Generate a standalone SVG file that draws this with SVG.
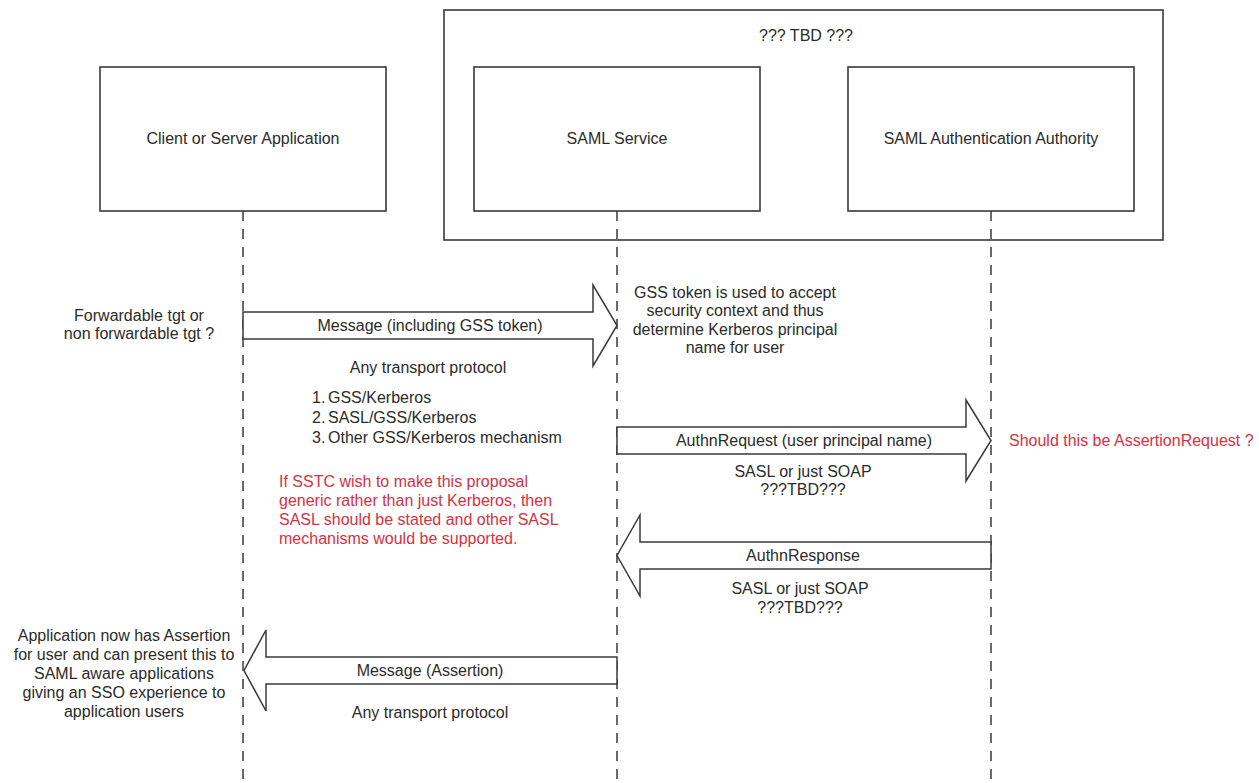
<svg xmlns="http://www.w3.org/2000/svg" width="1259" height="783" viewBox="0 0 1259 783">
<style>
text{font-family:"Liberation Sans",Arial,sans-serif;font-size:16px;fill:#2b2b2b}
.c{text-anchor:middle}
.r{fill:#d8303f}
.box{fill:#fff;stroke:#3a3a3a;stroke-width:1.6}
.life{fill:none;stroke:#3a3a3a;stroke-width:1.5;stroke-dasharray:10 8}
.arr{fill:#fff;stroke:#3a3a3a;stroke-width:1.5;stroke-linejoin:miter}
</style>
<rect width="1259" height="783" fill="#fff"/>
<g id="group-tbd">
<rect class="box" x="444" y="10" width="719" height="230"/>
<text class="c" x="806" y="40.5">??? TBD ???</text>
</g>
<g id="lifelines">
<line class="life" x1="243" y1="211" x2="243" y2="783"/>
<line class="life" x1="617" y1="211" x2="617" y2="783"/>
<line class="life" x1="991" y1="211" x2="991" y2="783"/>
</g>
<g id="client">
<rect class="box" x="100" y="67" width="286" height="144"/>
<text class="c" x="243" y="143.5">Client or Server Application</text>
</g>
<g id="saml-service">
<rect class="box" x="474" y="67" width="286" height="144"/>
<text class="c" x="617" y="143.5">SAML Service</text>
</g>
<g id="saml-aa">
<rect class="box" x="848" y="67" width="286" height="144"/>
<text class="c" x="991" y="143.5">SAML Authentication Authority</text>
</g>
<g id="connectors">
<polygon class="arr" points="243,312 593,312 593,285 617,325.5 593,366 593,339 243,339"/>
<polygon class="arr" points="617,427 966,427 966,400 991,440.5 966,481 966,454 617,454"/>
<polygon class="arr" points="991,542 640,542 640,515 617,555.5 640,596 640,569 991,569"/>
<polygon class="arr" points="617,657 266,657 266,630 244,670.5 266,711 266,684 617,684"/>
<text class="c" x="430" y="331">Message (including GSS token)</text>
<text class="c" x="428" y="372.5">Any transport protocol</text>
<text class="c" x="804" y="446">AuthnRequest (user principal name)</text>
<text class="c" x="803" y="476.5">SASL or just SOAP</text>
<text class="c" x="803" y="494.5">???TBD???</text>
<text class="c" x="803" y="561">AuthnResponse</text>
<text class="c" x="800" y="594">SASL or just SOAP</text>
<text class="c" x="800" y="612.5">???TBD???</text>
<text class="c" x="430" y="676">Message (Assertion)</text>
<text class="c" x="430" y="717.5">Any transport protocol</text>
</g>
<g id="note-tgt">
<text class="c" x="139" y="321">Forwardable tgt or</text>
<text class="c" x="139" y="339">non forwardable tgt ?</text>
</g>
<g id="note-gss">
<text class="c" x="735" y="297.5">GSS token is used to accept</text>
<text class="c" x="735" y="316">security context and thus</text>
<text class="c" x="735" y="334.5">determine Kerberos principal</text>
<text class="c" x="735" y="353">name for user</text>
</g>
<g id="note-list">
<text x="312" y="402.5">1.</text><text x="328" y="402.5">GSS/Kerberos</text>
<text x="312" y="422.5">2.</text><text x="328" y="422.5">SASL/GSS/Kerberos</text>
<text x="312" y="442.5">3.</text><text x="328" y="442.5">Other GSS/Kerberos mechanism</text>
</g>
<g id="note-sstc">
<text class="r" x="279" y="486.5">If SSTC wish to make this proposal</text>
<text class="r" x="279" y="505.5">generic rather than just Kerberos, then</text>
<text class="r" x="279" y="524.5">SASL should be stated and other SASL</text>
<text class="r" x="279" y="543.5">mechanisms would be supported.</text>
</g>
<g id="note-assertionrequest">
<text class="r" x="1009" y="445.5">Should this be AssertionRequest ?</text>
</g>
<g id="note-application">
<text class="c" x="124" y="640.5">Application now has Assertion</text>
<text class="c" x="124" y="659.5">for user and can present this to</text>
<text class="c" x="124" y="678.5">SAML aware applications</text>
<text class="c" x="124" y="697.5">giving an SSO experience to</text>
<text class="c" x="124" y="716.5">application users</text>
</g>
</svg>
